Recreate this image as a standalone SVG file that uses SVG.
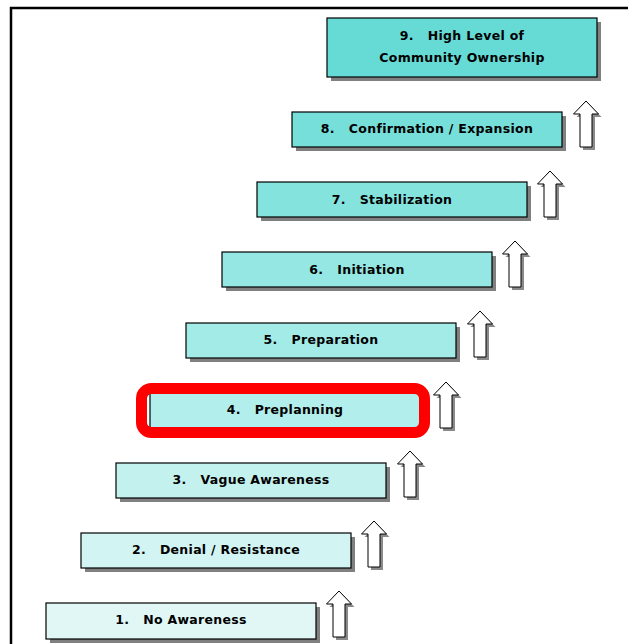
<svg xmlns="http://www.w3.org/2000/svg" xmlns:xlink="http://www.w3.org/1999/xlink" width="628" height="644" viewBox="0 0 628 644">
<style>
.sh{fill:#808080}
.bx{stroke:#000;stroke-width:1.2}
.t{font-family:"DejaVu Sans",sans-serif;font-weight:bold;font-size:12.5px;letter-spacing:0.3px;fill:#000;text-anchor:middle;white-space:pre}
.ar{fill:#fff;stroke:#000;stroke-width:1}
.arsh{fill:#8a8a8a}
</style>
<defs>
<path id="arrow" d="M0,0 L12.5,13 L6,13 L6,46 L-6,46 L-6,13 L-12.5,13 Z"/>
</defs>
<rect width="628" height="644" fill="#fff"/>
<path d="M11,644 L11,8 L628,8" fill="none" stroke="#000" stroke-width="2.5"/>
<g id="connectors">
<use xlink:href="#arrow" class="arsh" x="342" y="594"/><use xlink:href="#arrow" class="ar" x="339" y="591"/>
<use xlink:href="#arrow" class="arsh" x="377" y="524"/><use xlink:href="#arrow" class="ar" x="374" y="521"/>
<use xlink:href="#arrow" class="arsh" x="413" y="454"/><use xlink:href="#arrow" class="ar" x="410" y="451"/>
<use xlink:href="#arrow" class="arsh" x="449" y="385"/><use xlink:href="#arrow" class="ar" x="446" y="382"/>
<use xlink:href="#arrow" class="arsh" x="483" y="314"/><use xlink:href="#arrow" class="ar" x="480" y="311"/>
<use xlink:href="#arrow" class="arsh" x="518" y="244"/><use xlink:href="#arrow" class="ar" x="515" y="241"/>
<use xlink:href="#arrow" class="arsh" x="553" y="174"/><use xlink:href="#arrow" class="ar" x="550" y="171"/>
<use xlink:href="#arrow" class="arsh" x="589" y="104"/><use xlink:href="#arrow" class="ar" x="586" y="101"/>
</g>
<g id="n1"><rect class="sh" x="50" y="607" width="270" height="36"/><rect class="bx" x="46" y="603" width="270" height="36" fill="#e0f7f5"/><text class="t" x="181" y="624" xml:space="preserve">1.   No Awareness</text></g>
<g id="n2"><rect class="sh" x="85" y="537" width="270" height="35"/><rect class="bx" x="81" y="533" width="270" height="35" fill="#d2f4f2"/><text class="t" x="216" y="554" xml:space="preserve">2.   Denial / Resistance</text></g>
<g id="n3"><rect class="sh" x="120" y="467" width="270" height="35"/><rect class="bx" x="116" y="463" width="270" height="35" fill="#c3f1ee"/><text class="t" x="251" y="484" xml:space="preserve">3.   Vague Awareness</text></g>
<g id="n4"><rect class="sh" x="155" y="397" width="270" height="35"/><rect class="bx" x="150" y="393" width="270" height="35" fill="#b2eeeb"/><text class="t" x="285" y="414" xml:space="preserve">4.   Preplanning</text>
<rect x="141.5" y="388.5" width="283" height="44" rx="10" ry="10" fill="none" stroke="#ff0000" stroke-width="11"/></g>
<g id="n5"><rect class="sh" x="190" y="327" width="270" height="35"/><rect class="bx" x="186" y="323" width="270" height="35" fill="#a3ebe6"/><text class="t" x="321" y="344" xml:space="preserve">5.   Preparation</text></g>
<g id="n6"><rect class="sh" x="226" y="256" width="270" height="35"/><rect class="bx" x="222" y="252" width="270" height="35" fill="#94e7e2"/><text class="t" x="357" y="274" xml:space="preserve">6.   Initiation</text></g>
<g id="n7"><rect class="sh" x="261" y="186" width="270" height="35"/><rect class="bx" x="257" y="182" width="270" height="35" fill="#85e3de"/><text class="t" x="392" y="204" xml:space="preserve">7.   Stabilization</text></g>
<g id="n8"><rect class="sh" x="296" y="116" width="270" height="35"/><rect class="bx" x="292" y="112" width="270" height="35" fill="#76dfda"/><text class="t" x="427" y="133" xml:space="preserve">8.   Confirmation / Expansion</text></g>
<g id="n9"><rect class="sh" x="331" y="22" width="270" height="59"/><rect class="bx" x="327" y="18" width="270" height="59" fill="#66dbd6"/><text class="t" x="462" y="40" xml:space="preserve">9.   High Level of</text><text class="t" x="462" y="62">Community Ownership</text></g>
</svg>
